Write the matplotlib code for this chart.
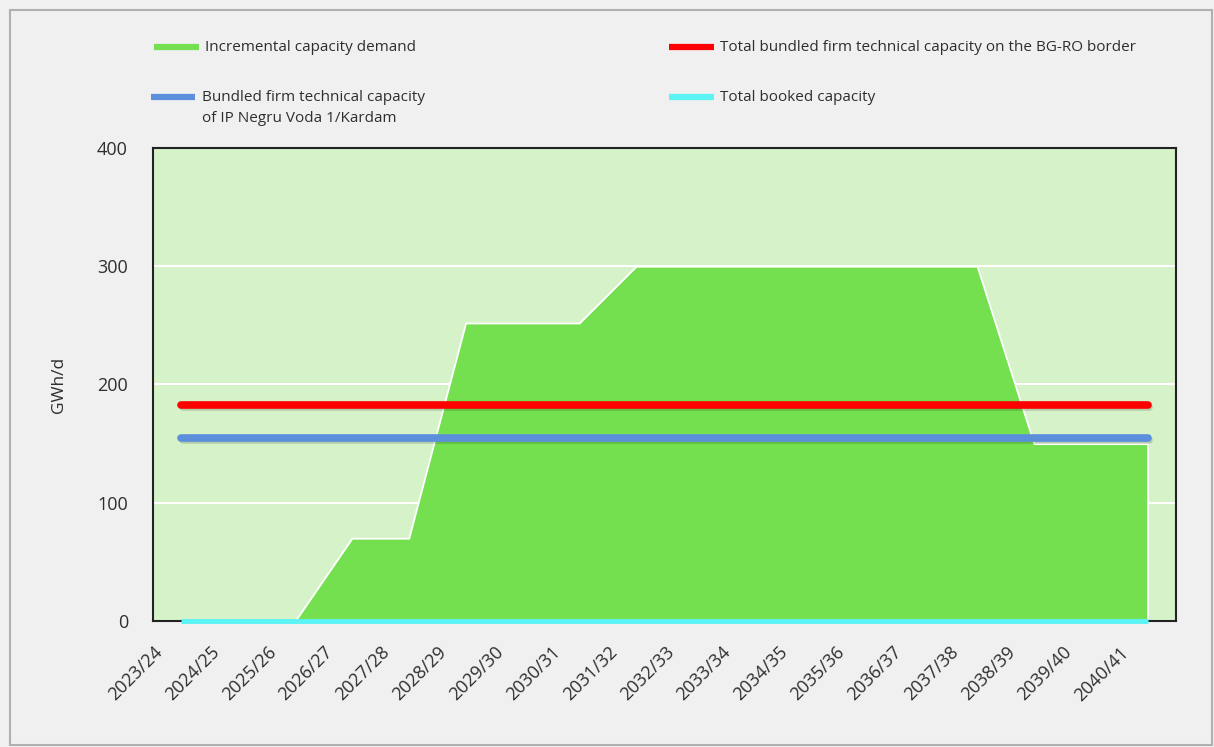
import numpy as np
import matplotlib
matplotlib.use("Agg")
import matplotlib.pyplot as plt
import matplotlib.patheffects as pe
import matplotlib.transforms as mtransforms
from matplotlib.lines import Line2D
from matplotlib.patches import Rectangle

years = ["2023/24", "2024/25", "2025/26", "2026/27", "2027/28", "2028/29", "2029/30", "2030/31", "2031/32",
         "2032/33", "2033/34", "2034/35", "2035/36", "2036/37", "2037/38", "2038/39", "2039/40", "2040/41"]
demand = [0, 0, 0, 70, 70, 252, 252, 252, 300, 300, 300, 300, 300, 300, 300, 150, 150, 150]
total_bg_ro = [183] * len(years)
negru_voda = [155] * len(years)
booked = [0] * len(years)

GREEN = "#74e04f"; RED = "#ff0000"; BLUE = "#5b8fdc"; CYAN = "#5cf3f5"
TXT = "#2e2e2e"
plt.rcParams["font.family"] = ["Open Sans", "DejaVu Sans"]

fig = plt.figure(figsize=(12.14, 7.47), dpi=100, facecolor="#f0f0f0")
fig.patches.append(Rectangle((0.008, 0.003), 0.99, 0.983, transform=fig.transFigure, fill=False,
                             edgecolor="#b0b0b0", linewidth=1.5))
ax = fig.add_axes([0.126, 0.1687, 0.8427, 0.6332])
ax.set_facecolor("#d5f2c8")
x = np.arange(len(years))

ax.fill_between(x, demand, 0, color=GREEN, edgecolor="white", linewidth=1.3, zorder=2)
shadow = [pe.SimpleLineShadow(offset=(1.2, -1.8), alpha=0.15), pe.Normal()]
ax.plot(x, total_bg_ro, color=RED, lw=5.5, solid_capstyle="round", zorder=4, path_effects=shadow)
ax.plot(x, negru_voda, color=BLUE, lw=5.5, solid_capstyle="round", zorder=4, path_effects=shadow)
ax.plot(x, booked, color=CYAN, lw=3.5, solid_capstyle="butt", zorder=5, clip_on=False)

ax.set_xlim(-0.5, len(years) - 0.5)
ax.set_ylim(0, 400)
ax.set_yticks([0, 100, 200, 300, 400])
ax.yaxis.grid(True, color="white", lw=1.5, zorder=1)
ax.set_axisbelow(True)
for s in ax.spines.values():
    s.set_color("#222222"); s.set_linewidth(1.5)
ax.set_xticks(x)
ax.set_xticklabels(years, rotation=45, ha="right", rotation_mode="anchor", fontsize=13, color=TXT)
ax.tick_params(axis="x", length=0, pad=6, labelsize=13, labelcolor=TXT)
ax.tick_params(axis="y", length=0, pad=18, labelsize=13, labelcolor=TXT)
shift = mtransforms.ScaledTranslation(-0.28, -0.14, fig.dpi_scale_trans)
for lbl in ax.get_xticklabels():
    lbl.set_transform(lbl.get_transform() + shift)
ax.set_ylabel("GWh/d", fontsize=12.5, color=TXT, labelpad=22)

# legend drawn by hand to keep the two-column layout
def legend_item(x0, y0, color, label):
    fig.add_artist(Line2D([x0, x0 + 0.037], [y0, y0], transform=fig.transFigure, color=color, lw=4.5,
                          solid_capstyle="butt"))
    fig.text(x0 + 0.042, y0 + 0.009, label, fontsize=11, color=TXT, va="top", linespacing=1.55)

legend_item(0.127, 0.937, GREEN, "Incremental capacity demand")
legend_item(0.551, 0.937, RED, "Total bundled firm technical capacity on the BG-RO border")
legend_item(0.124, 0.870, BLUE, "Bundled firm technical capacity\nof IP Negru Voda 1/Kardam")
legend_item(0.551, 0.870, CYAN, "Total booked capacity")

fig.savefig("out.png", dpi=100, facecolor=fig.get_facecolor())
